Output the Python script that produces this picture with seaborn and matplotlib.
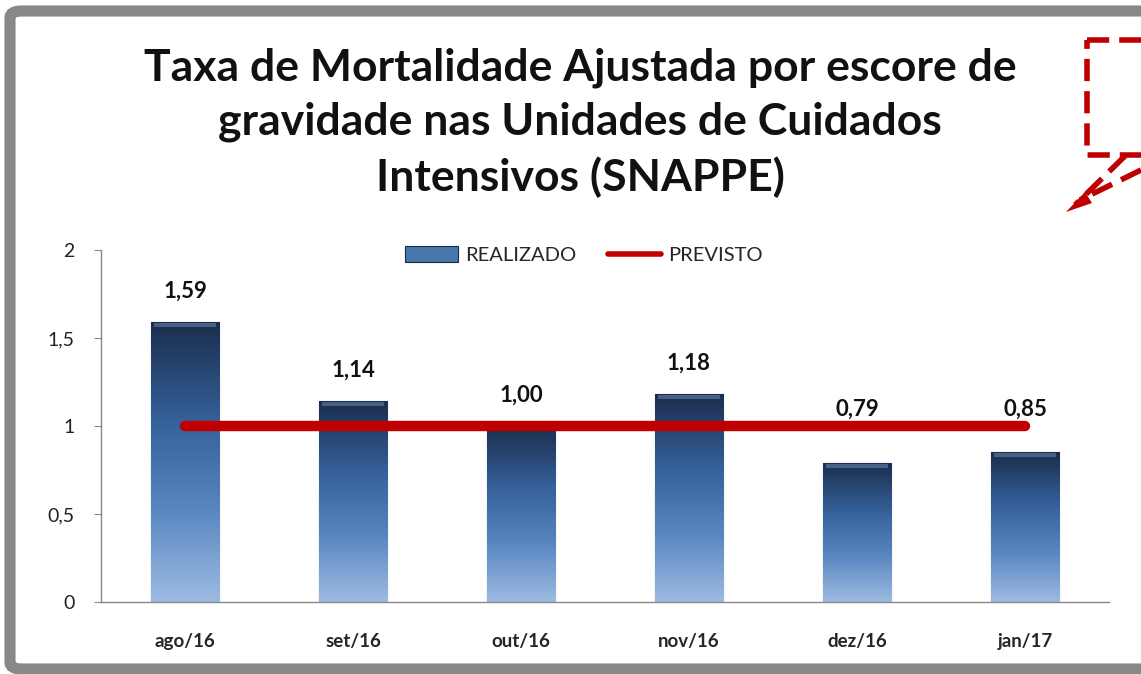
import numpy as np
import pandas as pd
import seaborn as sns
import matplotlib.pyplot as plt
from matplotlib.colors import LinearSegmentedColormap
from matplotlib.patches import FancyBboxPatch, Rectangle, Patch, Polygon
from matplotlib.lines import Line2D

meses = ["ago/16", "set/16", "out/16", "nov/16", "dez/16", "jan/17"]
realizado = [1.59, 1.14, 1.00, 1.18, 0.79, 0.85]
previsto = [1, 1, 1, 1, 1, 1]
rotulos = ["1,59", "1,14", "1,00", "1,18", "0,79", "0,85"]
yticks = [0, 0.5, 1, 1.5, 2]
ytick_labels = ["0", "0,5", "1", "1,5", "2"]

titulo = "Taxa de Mortalidade Ajustada por escore de\ngravidade nas Unidades de Cuidados\nIntensivos (SNAPPE)"

sns.set_style("white")
plt.rcParams["font.family"] = ["Lato", "DejaVu Sans"]

df = pd.DataFrame({"mes": meses, "realizado": realizado, "previsto": previsto})

fig = plt.figure(figsize=(11.41, 6.74), dpi=100)
ax = fig.add_axes([101 / 1141, 1 - 602 / 674, 1008 / 1141, 352 / 674])

sns.barplot(data=df, x="mes", y="realizado", color="#3a6aa5", width=0.405,
            edgecolor="#1b2a44", linewidth=0.8, ax=ax, zorder=2)

# gradient fill on each bar
cmap = LinearSegmentedColormap.from_list("barra", ["#9ebbe2", "#5886c0", "#345e96", "#1b2d4d"])
grad = np.linspace(0, 1, 256).reshape(-1, 1)
for bar in ax.patches:
    x0, w, h = bar.get_x(), bar.get_width(), bar.get_height()
    im = ax.imshow(grad, cmap=cmap, aspect="auto", origin="lower",
                   extent=[x0, x0 + w, 0, h], zorder=2.5)
    im.set_clip_path(bar)
    ax.add_patch(Rectangle((x0 + w * 0.05, h - 0.028), w * 0.9, 0.022,
                           facecolor="#7d9cc4", edgecolor="none", alpha=0.45, zorder=3))

sns.lineplot(data=df, x="mes", y="previsto", color="#c00000", linewidth=7.5,
             solid_capstyle="round", ax=ax, zorder=4)

for i, (v, t) in enumerate(zip(realizado, rotulos)):
    ax.text(i, max(v, 0.92) + 0.175, t, ha="center", va="center", fontsize=16,
            fontweight="bold", color="#111111", zorder=5)

ax.set_xlim(-0.5, 5.5)
ax.set_ylim(0, 2)
ax.set_yticks(yticks)
ax.set_yticklabels(ytick_labels, fontsize=14, color="#222222")
ax.set_xlabel("")
ax.set_ylabel("")
ax.tick_params(axis="x", length=0, pad=22)
ax.tick_params(axis="y", length=5, color="#888888", direction="out", left=True, pad=14)
for lbl in ax.get_xticklabels():
    lbl.set_fontweight("bold")
    lbl.set_fontsize(13.5)
for side in ["top", "right"]:
    ax.spines[side].set_visible(False)
for side in ["left", "bottom"]:
    ax.spines[side].set_color("#888888")
    ax.spines[side].set_linewidth(1)
ax.set_facecolor("none")

handles = [Patch(facecolor="#4a76b0", edgecolor="#1b2a44", linewidth=0.8),
           Line2D([0], [0], color="#c00000", linewidth=4)]
ax.legend(handles, ["REALIZADO", "PREVISTO"], loc="center", ncol=2,
          bbox_to_anchor=(0.479, 0.985), frameon=False, fontsize=14.5,
          handlelength=2.6, handleheight=0.8, columnspacing=1.6, handletextpad=0.35)

fig.text(580 / 1141, 1 - 123 / 674, titulo, ha="center", va="center", fontsize=32,
         fontweight="bold", linespacing=1.42, color="#111111")

# gray frame
fig.patches.append(FancyBboxPatch((10 / 1141, 5 / 674), 1200 / 1141, 658 / 674,
                                  boxstyle="round,pad=0,rounding_size=0.01",
                                  transform=fig.transFigure, fill=False,
                                  edgecolor="#888888", linewidth=8))

# red dashed callout (cut at the right edge)
cx = [1087 / 1141, 1160 / 1141, 1160 / 1141, 1087 / 1141, 1087 / 1141]
cy = [1 - 40 / 674, 1 - 40 / 674, 1 - 155 / 674, 1 - 155 / 674, 1 - 40 / 674]
fig.add_artist(Line2D(cx, cy, transform=fig.transFigure, color="#c00000",
                      linewidth=4, linestyle=(0, (4, 1.8))))
fig.add_artist(Line2D([1125 / 1141, 1075 / 1141], [1 - 156 / 674, 1 - 205 / 674],
                      transform=fig.transFigure, color="#c00000", linewidth=4,
                      linestyle=(0, (4, 1.8))))
fig.add_artist(Line2D([1141 / 1141, 1080 / 1141], [1 - 170 / 674, 1 - 200 / 674],
                      transform=fig.transFigure, color="#c00000", linewidth=4,
                      linestyle=(0, (4, 1.8))))
fig.patches.append(Polygon([[1066 / 1141, 1 - 212 / 674], [1085 / 1141, 1 - 192 / 674],
                            [1092 / 1141, 1 - 203 / 674]], closed=True,
                           transform=fig.transFigure, facecolor="#c00000",
                           edgecolor="none"))

fig.savefig("out.png", dpi=100)
